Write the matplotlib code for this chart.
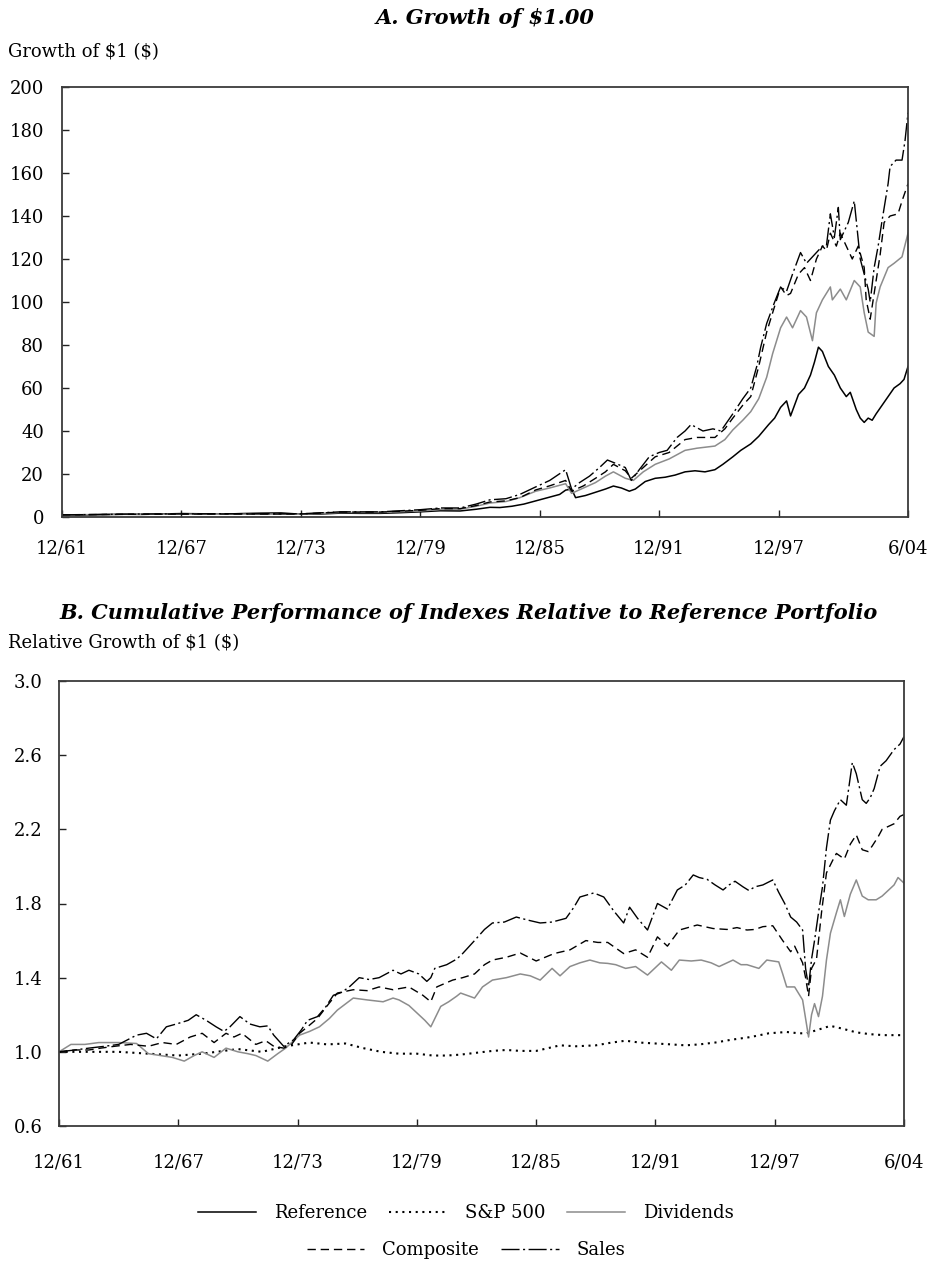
import matplotlib
matplotlib.use("Agg")
import matplotlib.pyplot as plt
from matplotlib.lines import Line2D

# ---------------- Panel A data (growth of $1) ----------------
ref_a_t = [1962.0, 1963.0, 1964.0, 1965.0, 1966.0, 1967.0, 1968.0, 1969.0, 1970.0, 1971.0,
           1972.0, 1973.0, 1974.0, 1975.0, 1976.0, 1977.0, 1978.0, 1979.0, 1980.0, 1981.0,
           1982.0, 1982.8, 1983.5, 1984.0, 1984.6, 1985.2, 1985.8, 1986.4, 1987.0, 1987.3,
           1987.6, 1987.8, 1988.3, 1988.8, 1989.3, 1989.7, 1990.1, 1990.5, 1990.8, 1991.3,
           1991.8, 1992.3, 1992.8, 1993.3, 1993.8, 1994.3, 1994.8, 1995.2, 1995.7, 1996.1,
           1996.6, 1997.0, 1997.5, 1997.8, 1998.1, 1998.4, 1998.6, 1999.0, 1999.3, 1999.6,
           1999.8, 2000.0, 2000.2, 2000.5, 2000.8, 2001.1, 2001.4, 2001.6, 2001.9, 2002.1,
           2002.3, 2002.5, 2002.7, 2002.9, 2003.2, 2003.5, 2003.8, 2004.1, 2004.3, 2004.5]
ref_a_v = [1.0, 0.9, 1.1, 1.3, 1.2, 1.4, 1.6, 1.5, 1.3, 1.6,
           1.8, 1.9, 1.3, 1.4, 1.8, 1.7, 1.7, 2.0, 2.4, 2.9,
           2.8, 3.6, 4.5, 4.4, 5.0, 6.0, 7.5, 9.0, 10.5, 12.5,
           13.0, 9.0, 10.0, 11.5, 13.0, 14.4, 13.5, 12.0, 13.0, 16.5,
           18.0, 18.5, 19.5, 21.0, 21.5, 21.0, 22.0, 24.5, 28.0, 31.0,
           34.0, 37.5, 43.0, 46.0, 51.0, 54.0, 47.0, 57.0, 60.0, 66.0,
           72.0, 79.0, 77.0, 70.0, 66.0, 60.0, 56.0, 58.0, 50.0, 46.0,
           44.0, 46.0, 45.0, 48.0, 52.0, 56.0, 60.0, 62.0, 64.0, 70.0]

div_a_t = [1962.0, 1966.0, 1970.0, 1974.0, 1976.0, 1978.0, 1980.0, 1981.0, 1982.0, 1982.8,
           1983.5, 1984.3, 1985.0, 1985.8, 1986.5, 1987.3, 1987.6, 1988.2, 1988.8, 1989.3,
           1989.7, 1990.3, 1990.7, 1991.2, 1991.8, 1992.5, 1993.3, 1993.9, 1994.8, 1995.3,
           1995.7, 1996.2, 1996.6, 1997.0, 1997.4, 1997.7, 1998.1, 1998.4, 1998.7, 1999.1,
           1999.4, 1999.7, 1999.9, 2000.2, 2000.6, 2000.7, 2001.1, 2001.4, 2001.8, 2002.1,
           2002.3, 2002.5, 2002.8, 2002.9, 2003.1, 2003.5, 2003.8, 2004.2, 2004.5]
div_a_v = [1.0, 1.3, 1.3, 1.3, 2.1, 2.1, 2.8, 3.5, 3.6, 5.0,
           6.5, 7.2, 9.0, 12.0, 13.5, 15.5, 11.0, 13.5, 16.0, 19.0,
           21.0, 18.0, 17.0, 21.0, 24.5, 27.0, 31.0, 32.0, 33.0, 36.0,
           40.5, 45.0, 49.0, 55.0, 65.0, 76.0, 88.0, 93.0, 88.0, 96.0,
           93.0, 82.0, 95.0, 101.0, 107.0, 101.0, 106.0, 101.0, 110.0, 107.0,
           95.0, 86.0, 84.0, 99.5, 107.0, 116.0, 118.0, 121.0, 132.0]

comp_a_t = [1962.0, 1966.0, 1970.0, 1974.0, 1976.0, 1978.0, 1980.0, 1981.0, 1982.0, 1982.8,
            1983.5, 1984.3, 1985.0, 1985.8, 1986.5, 1987.3, 1987.6, 1988.2, 1988.8, 1989.3,
            1989.7, 1990.3, 1990.6, 1991.2, 1991.8, 1992.5, 1993.3, 1993.9, 1994.8, 1995.3,
            1995.7, 1996.2, 1996.6, 1997.0, 1997.4, 1997.7, 1998.1, 1998.4, 1998.6, 1999.0,
            1999.3, 1999.6, 1999.9, 2000.2, 2000.4, 2000.6, 2000.9, 2001.1, 2001.4, 2001.7,
            2002.0, 2002.3, 2002.4, 2002.6, 2002.8, 2003.1, 2003.3, 2003.6, 2004.0, 2004.2,
            2004.5]
comp_a_v = [1.0, 1.3, 1.4, 1.4, 2.3, 2.3, 3.1, 3.9, 3.9, 5.3,
            7.0, 7.5, 9.0, 12.6, 14.5, 17.0, 12.0, 14.5, 18.0, 21.0,
            24.5, 21.5, 18.0, 23.0, 28.0, 30.0, 36.0, 37.0, 37.0, 41.0,
            46.0, 52.0, 56.0, 70.0, 86.0, 95.0, 107.0, 103.0, 104.0, 113.0,
            116.0, 110.0, 120.0, 126.0, 124.0, 132.0, 126.0, 132.0, 126.0, 120.0,
            126.0, 116.0, 101.0, 92.0, 104.0, 122.0, 137.0, 140.0, 141.0, 147.0,
            155.0]

sales_a_t = [1962.0, 1966.0, 1970.0, 1974.0, 1976.0, 1978.0, 1980.0, 1981.0, 1982.0, 1982.8,
             1983.5, 1984.3, 1985.0, 1985.8, 1986.5, 1987.3, 1987.6, 1988.0, 1988.5, 1989.0,
             1989.4, 1989.8, 1990.3, 1990.6, 1991.0, 1991.5, 1992.0, 1992.4, 1992.9, 1993.3,
             1993.6, 1994.2, 1994.7, 1995.1, 1995.7, 1996.2, 1996.6, 1996.9, 1997.1, 1997.4,
             1997.8, 1998.1, 1998.4, 1998.7, 1999.1, 1999.4, 1999.6, 1999.9, 2000.2, 2000.4,
             2000.6, 2000.8, 2001.0, 2001.1, 2001.5, 2001.8, 2002.1, 2002.3, 2002.5, 2002.6,
             2002.8, 2003.0, 2003.2, 2003.5, 2003.6, 2003.9, 2004.2, 2004.35, 2004.5]
sales_a_v = [1.0, 1.4, 1.5, 1.5, 2.4, 2.4, 3.4, 4.2, 4.2, 6.0,
             8.0, 8.5, 10.5, 14.0, 17.0, 22.0, 13.0, 16.0, 19.0, 23.0,
             26.5, 25.0, 23.0, 17.0, 22.0, 28.0, 30.0, 31.0, 37.0, 40.0,
             43.0, 40.0, 41.0, 40.0, 48.0, 55.0, 60.0, 70.0, 79.0, 90.0,
             100.0, 107.0, 105.0, 113.0, 123.0, 118.0, 120.0, 123.0, 126.0, 126.0,
             141.0, 130.0, 144.0, 129.0, 137.0, 147.0, 120.0, 113.0, 106.0, 100.0,
             116.0, 126.0, 138.0, 155.0, 163.0, 166.0, 166.0, 175.0, 188.0]

# ---------------- Panel B data (relative to reference) ----------------
sp_b_t = [1962.0, 1963.5, 1965.0, 1966.5, 1968.0, 1969.2, 1971.0, 1972.2, 1973.4, 1974.6,
          1975.5, 1976.4, 1977.3, 1978.2, 1979.1, 1980.0, 1980.8, 1981.5, 1982.2, 1983.0,
          1983.8, 1984.5, 1985.2, 1986.0, 1986.6, 1987.2, 1988.0, 1989.0, 1989.8, 1990.5,
          1991.2, 1992.0, 1992.8, 1993.5, 1994.2, 1995.0, 1995.8, 1996.8, 1997.7, 1998.6,
          1999.2, 1999.6, 2000.2, 2000.8, 2001.4, 2002.1, 2002.8, 2003.5, 2004.2, 2004.5]
sp_b_v = [1.00, 1.00, 1.00, 0.99, 0.98, 0.99, 1.015, 1.00, 1.03, 1.05,
          1.04, 1.045, 1.02, 1.00, 0.99, 0.99, 0.98, 0.98, 0.985, 0.995,
          1.005, 1.01, 1.005, 1.005, 1.02, 1.035, 1.03, 1.035, 1.05, 1.06,
          1.05, 1.045, 1.04, 1.035, 1.04, 1.05, 1.065, 1.08, 1.10, 1.107,
          1.10, 1.10, 1.12, 1.14, 1.125, 1.105, 1.095, 1.09, 1.09, 1.09]

div_b_t = [1962.0, 1962.6, 1963.3, 1964.0, 1965.0, 1965.9, 1966.5, 1967.1, 1967.7, 1968.3,
           1968.8, 1969.2, 1969.8, 1970.4, 1971.0, 1971.5, 1971.9, 1972.5, 1973.0, 1973.4,
           1974.1, 1974.6, 1975.1, 1975.6, 1976.0, 1976.8, 1977.5, 1978.3, 1978.8, 1979.1,
           1979.6, 1980.0, 1980.4, 1980.7, 1981.2, 1981.6, 1982.0, 1982.2, 1982.9, 1983.3,
           1983.8, 1984.5, 1985.2, 1985.7, 1986.2, 1986.8, 1987.2, 1987.7, 1988.2, 1988.7,
           1989.2, 1989.6, 1990.0, 1990.5, 1991.0, 1991.6, 1992.3, 1992.8, 1993.2, 1993.8,
           1994.3, 1994.8, 1995.2, 1995.9, 1996.3, 1996.6, 1997.2, 1997.6, 1998.2, 1998.4,
           1998.6, 1999.0, 1999.4, 1999.55, 1999.7, 1999.85, 2000.0, 2000.2, 2000.4, 2000.6,
           2000.8, 2001.1, 2001.3, 2001.5, 2001.8, 2002.1, 2002.4, 2002.7, 2003.1, 2003.4,
           2003.7, 2004.0, 2004.2, 2004.5]
div_b_v = [1.00, 1.04, 1.04, 1.05, 1.05, 1.045, 0.99, 0.98, 0.97, 0.95,
           0.98, 1.00, 0.97, 1.02, 1.00, 0.99, 0.98, 0.95, 0.99, 1.02,
           1.09, 1.11, 1.135, 1.18, 1.225, 1.29, 1.28, 1.27, 1.29, 1.28,
           1.25, 1.21, 1.17, 1.135, 1.245, 1.27, 1.30, 1.317, 1.29, 1.35,
           1.387, 1.40, 1.42, 1.41, 1.387, 1.45, 1.41, 1.46, 1.48, 1.495,
           1.48, 1.477, 1.47, 1.45, 1.46, 1.414, 1.485, 1.44, 1.495, 1.49,
           1.495, 1.48, 1.46, 1.495, 1.47, 1.47, 1.45, 1.495, 1.485, 1.42,
           1.35, 1.35, 1.28, 1.18, 1.08, 1.20, 1.26, 1.19, 1.30, 1.495,
           1.64, 1.75, 1.82, 1.73, 1.85, 1.927, 1.84, 1.82, 1.82, 1.84,
           1.87, 1.90, 1.94, 1.91]

comp_b_t = [1962.0, 1962.8, 1963.5, 1964.1, 1964.8, 1965.6, 1966.5, 1967.2, 1967.9, 1968.6,
            1969.2, 1969.8, 1970.4, 1970.8, 1971.2, 1971.9, 1972.4, 1972.8, 1973.3, 1973.7,
            1974.1, 1974.5, 1975.0, 1975.5, 1976.0, 1976.8, 1977.5, 1978.1, 1978.8, 1979.6,
            1980.3, 1980.7, 1981.0, 1981.8, 1982.3, 1982.9, 1983.4, 1983.8, 1984.5, 1985.2,
            1986.0, 1986.9, 1987.7, 1988.5, 1989.1, 1989.6, 1990.0, 1990.4, 1991.0, 1991.6,
            1992.1, 1992.6, 1993.2, 1994.1, 1994.9, 1995.6, 1996.1, 1996.6, 1997.0, 1997.4,
            1997.9, 1998.4, 1998.8, 1999.0, 1999.4, 1999.55, 1999.7, 1999.85, 2000.1, 2000.35,
            2000.6, 2000.9, 2001.1, 2001.5, 2001.8, 2002.1, 2002.4, 2002.7, 2002.9, 2003.2,
            2003.4, 2003.8, 2004.0, 2004.3, 2004.5]
comp_b_v = [1.00, 1.01, 1.01, 1.02, 1.03, 1.04, 1.03, 1.05, 1.04, 1.08,
            1.10, 1.05, 1.10, 1.08, 1.10, 1.04, 1.06, 1.03, 1.02, 1.04,
            1.10, 1.135, 1.18, 1.25, 1.317, 1.335, 1.33, 1.35, 1.335, 1.35,
            1.305, 1.27, 1.35, 1.387, 1.40, 1.42, 1.47, 1.495, 1.51, 1.533,
            1.49, 1.53, 1.55, 1.60, 1.59, 1.59, 1.56, 1.53, 1.55, 1.51,
            1.62, 1.57, 1.657, 1.684, 1.665, 1.66, 1.67, 1.657, 1.66, 1.675,
            1.68, 1.60, 1.54, 1.57, 1.48, 1.40, 1.30, 1.45, 1.50, 1.75,
            1.965, 2.03, 2.07, 2.04, 2.12, 2.17, 2.09, 2.08, 2.11, 2.16,
            2.20, 2.22, 2.23, 2.27, 2.28]

sales_b_t = [1962.0, 1962.8, 1963.5, 1964.3, 1965.0, 1965.9, 1966.4, 1966.9, 1967.4, 1967.9,
             1968.5, 1968.9, 1969.4, 1969.9, 1970.3, 1970.6, 1971.1, 1971.6, 1972.1, 1972.5,
             1972.8, 1973.3, 1973.8, 1974.2, 1974.5, 1975.0, 1975.4, 1975.8, 1976.2, 1976.6,
             1977.1, 1977.6, 1978.1, 1978.8, 1979.2, 1979.6, 1980.1, 1980.5, 1980.7, 1980.9,
             1981.5, 1982.0, 1982.3, 1982.9, 1983.4, 1983.8, 1984.4, 1985.0, 1985.6, 1986.2,
             1986.8, 1987.5, 1987.9, 1988.2, 1988.9, 1989.4, 1989.9, 1990.4, 1990.7, 1991.1,
             1991.6, 1992.1, 1992.6, 1993.1, 1993.5, 1993.9, 1994.2, 1994.6, 1995.0, 1995.4,
             1995.7, 1996.0, 1996.4, 1996.7, 1997.0, 1997.4, 1997.9, 1998.2, 1998.5, 1998.8,
             1999.1, 1999.4, 1999.55, 1999.7, 1999.85, 2000.0, 2000.2, 2000.4, 2000.6, 2000.8,
             2001.0, 2001.3, 2001.6, 2001.9, 2002.1, 2002.4, 2002.6, 2002.8, 2003.0, 2003.3,
             2003.6, 2004.0, 2004.3, 2004.5]
sales_b_v = [1.00, 1.01, 1.02, 1.03, 1.04, 1.09, 1.10, 1.07, 1.135, 1.15,
             1.17, 1.20, 1.17, 1.135, 1.11, 1.135, 1.19, 1.15, 1.135, 1.14,
             1.09, 1.03, 1.065, 1.12, 1.17, 1.19, 1.24, 1.305, 1.32, 1.35,
             1.40, 1.39, 1.40, 1.44, 1.42, 1.44, 1.42, 1.38, 1.40, 1.45,
             1.47, 1.50, 1.53, 1.60, 1.66, 1.695, 1.70, 1.727, 1.71, 1.695,
             1.70, 1.72, 1.78, 1.835, 1.857, 1.835, 1.76, 1.695, 1.78, 1.72,
             1.657, 1.80, 1.77, 1.873, 1.90, 1.954, 1.94, 1.93, 1.90, 1.873,
             1.90, 1.92, 1.89, 1.87, 1.89, 1.90, 1.927, 1.86, 1.80, 1.727,
             1.70, 1.657, 1.45, 1.35, 1.50, 1.60, 1.75, 1.89, 2.10, 2.25,
             2.30, 2.36, 2.33, 2.56, 2.50, 2.36, 2.34, 2.37, 2.42, 2.54,
             2.57, 2.63, 2.66, 2.70]

x_ticks = [1962, 1968, 1974, 1980, 1986, 1992, 1998, 2004.5]
x_labels = ["12/61", "12/67", "12/73", "12/79", "12/85", "12/91", "12/97", "6/04"]
a_yticks = list(range(0, 201, 20))
b_yticks = [0.6, 1.0, 1.4, 1.8, 2.2, 2.6, 3.0]

# ---------------- styling ----------------
plt.rcParams['font.family'] = ['DejaVu Serif']
GRAY = '#8c8c8c'
DASH = (0, (6, 3.5))
DASHDOT = (0, (13, 2.5, 1.5, 2.5))
DOT = (0, (1, 2.2))
W, H = 932, 1262
fig = plt.figure(figsize=(W / 100, H / 100), dpi=100)


def frac_axes(left, top, right, bottom):
    return fig.add_axes([left / W, 1 - bottom / H, (right - left) / W, (bottom - top) / H])


def style_axes(ax, xpad, ypad):
    ax.set_xlim(1962, 2004.5)
    ax.set_xticks(x_ticks)
    ax.set_xticklabels(x_labels)
    ax.tick_params(axis='both', direction='in', length=5, width=1, labelsize=13,
                   top=False, right=False, color='#222222')
    ax.tick_params(axis='x', pad=xpad)
    ax.tick_params(axis='y', pad=ypad)
    for s in ax.spines.values():
        s.set_color('#3a3a3a')
        s.set_linewidth(1.3)


# Panel A
axA = frac_axes(62, 87, 908, 517)
axA.plot(ref_a_t, ref_a_v, color='black', lw=1.1)
axA.plot(div_a_t, div_a_v, color=GRAY, lw=1.1)
axA.plot(comp_a_t, comp_a_v, color='black', lw=1.0, linestyle=DASH)
axA.plot(sales_a_t, sales_a_v, color='black', lw=1.0, linestyle=DASHDOT)
axA.set_ylim(0, 200)
axA.set_yticks(a_yticks)
style_axes(axA, 16, 13)

# Panel B
axB = frac_axes(59, 681, 904, 1126)
axB.plot(sp_b_t, sp_b_v, color='black', lw=1.5, linestyle=DOT)
axB.plot(div_b_t, div_b_v, color=GRAY, lw=1.1)
axB.plot(comp_b_t, comp_b_v, color='black', lw=1.0, linestyle=DASH)
axB.plot(sales_b_t, sales_b_v, color='black', lw=1.0, linestyle=DASHDOT)
axB.set_ylim(0.6, 3.0)
axB.set_yticks(b_yticks)
axB.set_yticklabels([f"{v:.1f}" for v in b_yticks])
style_axes(axB, 20, 12)

# Titles and axis captions
fig.text(485 / W, 1 - 18 / H, r"A. Growth of \$1.00", ha='center', va='center',
         fontsize=15, fontweight='bold', fontstyle='italic')
fig.text(8 / W, 1 - 52 / H, r"Growth of \$1 (\$)", ha='left', va='center', fontsize=13)
fig.text(469 / W, 1 - 613 / H, "B. Cumulative Performance of Indexes Relative to Reference Portfolio",
         ha='center', va='center', fontsize=15, fontweight='bold', fontstyle='italic')
fig.text(8 / W, 1 - 643 / H, r"Relative Growth of \$1 (\$)", ha='left', va='center', fontsize=13)

# Legend (two rows)
h_ref = Line2D([], [], color='black', lw=1.1)
h_sp = Line2D([], [], color='black', lw=1.5, linestyle=DOT)
h_div = Line2D([], [], color=GRAY, lw=1.1)
h_comp = Line2D([], [], color='black', lw=1.0, linestyle=DASH)
h_sales = Line2D([], [], color='black', lw=1.0, linestyle=DASHDOT)
leg_kw = dict(frameon=False, fontsize=13, handlelength=3.2, handletextpad=1.0,
              columnspacing=1.2, borderpad=0, borderaxespad=0)
fig.legend([h_ref, h_sp, h_div], ["Reference", "S&P 500", "Dividends"], ncol=3,
           loc='center', bbox_to_anchor=(466 / W, 1 - 1213 / H), **leg_kw)
fig.legend([h_comp, h_sales], ["Composite", "Sales"], ncol=2,
           loc='center', bbox_to_anchor=(466 / W, 1 - 1250 / H), **leg_kw)

fig.savefig("out.png", dpi=100, facecolor='white')
